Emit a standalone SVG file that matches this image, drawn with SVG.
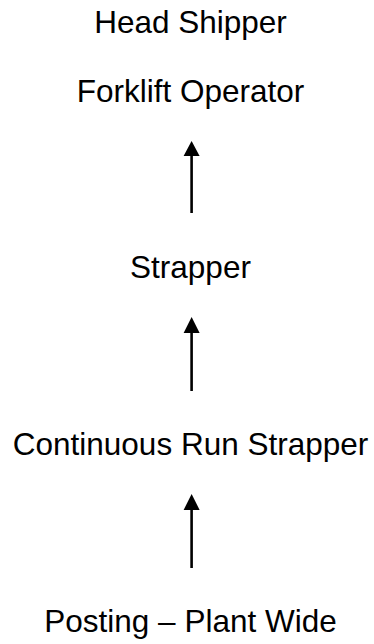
<svg xmlns="http://www.w3.org/2000/svg" width="374" height="644" viewBox="0 0 374 644">
<style>
.t{font-family:"Liberation Sans",Arial,sans-serif;font-size:31.5px;fill:#000;text-anchor:middle}
.c{stroke:#000;stroke-width:2.6;fill:none}
.h{fill:#000}
</style>
<rect width="374" height="644" fill="#fff"/>
<g id="head-shipper"><text class="t" x="190.5" y="32.7">Head Shipper</text></g>
<g id="forklift-operator"><text class="t" x="190.5" y="101.7">Forklift Operator</text></g>
<g id="strapper"><text class="t" x="190.5" y="277.7">Strapper</text></g>
<g id="continuous-run-strapper"><text class="t" x="190.5" y="455">Continuous Run Strapper</text></g>
<g id="posting-plant-wide"><text class="t" x="190.5" y="631.7">Posting – Plant Wide</text></g>
<g id="connectors">
<line class="c" x1="191.6" y1="213" x2="191.6" y2="154"/>
<polygon class="h" points="191.6,141 183.6,156 199.6,156"/>
<line class="c" x1="191.6" y1="391" x2="191.6" y2="331"/>
<polygon class="h" points="191.6,317 183.6,333 199.6,333"/>
<line class="c" x1="191.6" y1="568" x2="191.6" y2="508"/>
<polygon class="h" points="191.6,494 183.6,510 199.6,510"/>
</g>
</svg>
